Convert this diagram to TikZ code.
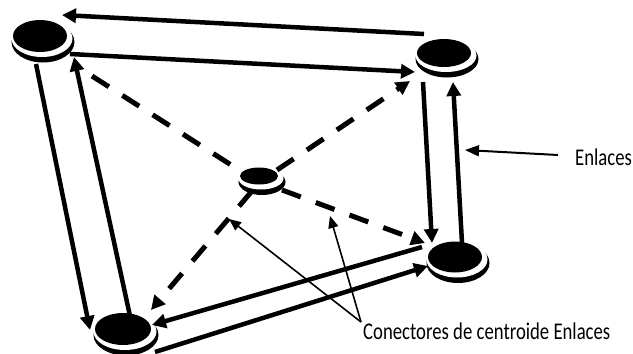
\documentclass[tikz,border=0pt]{standalone}
\usepackage{fontspec}
\usepackage{graphicx}
\setmainfont{Carlito}
\usetikzlibrary{shapes.geometric,arrows.meta}

\tikzset{
  disk/.style={ellipse, fill=black, draw=none, inner sep=0pt},
  link/.style={line width=4.5pt, -{Triangle[length=14pt,width=14pt]}},
  spoke/.style={line width=5pt, dash pattern=on 20pt off 16pt},
  spokearrow/.style={spoke, -{Triangle[length=14pt,width=14pt]}},
  callout/.style={line width=1.6pt, -{Triangle[length=12pt,width=10pt]}},
  calloutbold/.style={line width=2pt, -{Triangle[length=14pt,width=11pt]}},
  caption/.style={anchor=base west, inner sep=0pt, font=\fontsize{24}{28}\selectfont}
}

% a raised disc: black top face over a white rim with a dark lower edge
\newcommand\puck[5]{% name, x, y, x radius, y radius
  \fill[black] (#2+3,#3+6) ellipse [x radius=#4pt+4.5pt, y radius=#5pt+4.5pt];
  \fill[white] (#2+2,#3+2.5) ellipse [x radius=#4pt+3.5pt, y radius=#5pt+2.5pt];
  \node[disk, minimum width=2*#4pt, minimum height=2*#5pt] (#1) at (#2,#3) {};
}

\begin{document}
\begin{tikzpicture}[x=1pt, y=-1pt]
  \useasboundingbox[fill=white] (0,0) rectangle (633,354);

  % discs
  \puck{tl}{40}{36}{27}{16}
  \puck{tr}{444}{53}{27}{14}
  \puck{ctr}{259}{176}{19}{8.5}
  \puck{br}{455}{257}{27}{15.5}
  \puck{bl}{123}{329}{28}{16}

  % end points of the paired links
  \coordinate (tA) at (424,34);  \coordinate (tB) at (62,15);
  \coordinate (tC) at (70,54);   \coordinate (tD) at (415,72);
  \coordinate (rA) at (423,82);  \coordinate (rB) at (432,243);
  \coordinate (rC) at (462,243); \coordinate (rD) at (453,82);
  \coordinate (lA) at (36,64);   \coordinate (lB) at (90,330);
  \coordinate (lC) at (130,316); \coordinate (lD) at (74,57);
  \coordinate (bA) at (422,247); \coordinate (bB) at (152,325);
  \coordinate (bC) at (155,352); \coordinate (bD) at (428,266);

  % end points of the centroid connectors
  \coordinate (sTL) at (92,76);   \coordinate (cTL) at (239,170);
  \coordinate (cTR) at (277,170); \coordinate (sTR) at (410,81);
  \coordinate (cBR) at (282,190); \coordinate (sBR) at (425,243);
  \coordinate (cBL) at (252,191); \coordinate (sBL) at (151,310);

  % links between neighbouring discs
  \draw[link] (tA) -- (tB);
  \draw[link] (tC) -- (tD);
  \draw[link] (rA) -- (rB);
  \draw[link] (rC) -- (rD);
  \draw[link] (lA) -- (lB);
  \draw[link] (lC) -- (lD);
  \draw[link] (bA) -- (bB);
  \draw[link] (bC) -- (bD);

  % centroid connectors
  \draw[spoke] (sTL) -- (cTL);
  \draw[spokearrow] (cTR) -- (sTR);
  \draw[spokearrow] (cBR) -- (sBR);
  \draw[spokearrow] (cBL) -- (sBL);

  % labels
  \node[caption] (lblEnl) at (575,165) {\scalebox{0.78}[1]{Enlaces}};
  \node[caption] (lblCon) at (363,339) {\scalebox{0.78}[1]{Conectores de centroide Enlaces}};

  \coordinate (eFrom) at (558,155);  \coordinate (eTo) at (465,150);
  \coordinate (kFrom) at (361,322);
  \coordinate (kTo1) at (229,219);   \coordinate (kTo2) at (330,216);

  \draw[calloutbold] (eFrom) -- (eTo);
  \draw[callout] (kFrom) -- (kTo1);
  \draw[callout] (kFrom) -- (kTo2);
\end{tikzpicture}
\end{document}
